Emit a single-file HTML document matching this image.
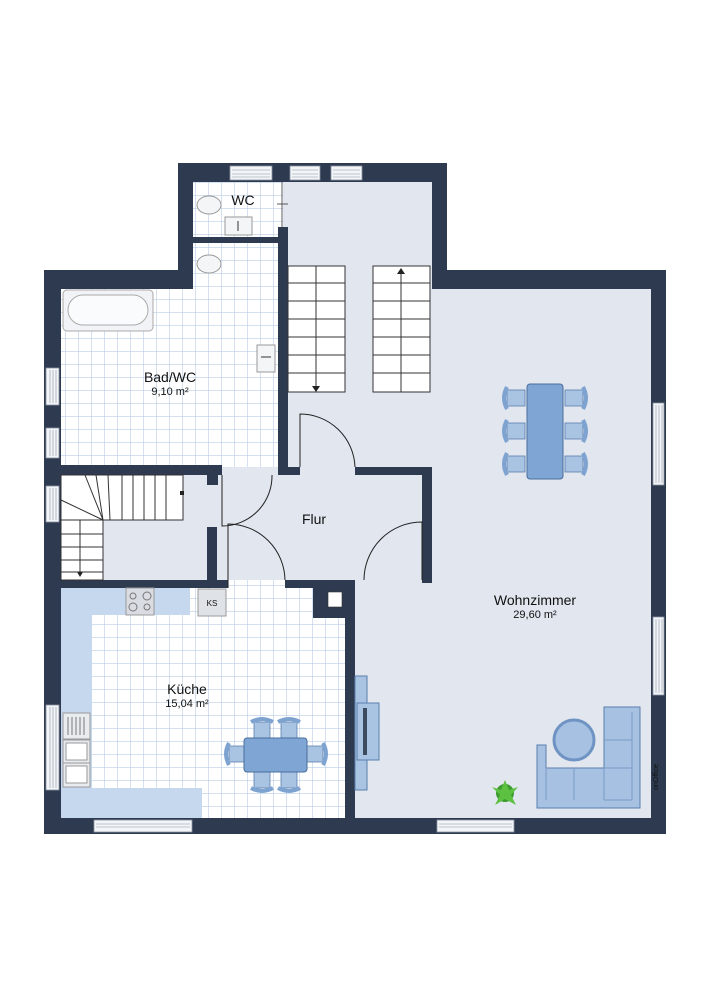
<!DOCTYPE html>
<html><head><meta charset="utf-8"><style>
html,body{margin:0;padding:0;background:#fff;width:706px;height:1000px;overflow:hidden}
svg{display:block}
text{font-family:"Liberation Sans",sans-serif;fill:#111}
</style></head><body>
<svg width="706" height="1000" viewBox="0 0 706 1000" xmlns="http://www.w3.org/2000/svg">
<defs>
<pattern id="tile" width="13" height="13" patternUnits="userSpaceOnUse">
<rect width="13" height="13" fill="#fff"/>
<path d="M0 0H13M0 0V13" stroke="#b9cde6" stroke-width="1.2"/>
</pattern>
<g id="chair">
<rect x="-11" y="-8" width="18" height="16" fill="#a9c3e2" stroke="#5a7fae" stroke-width="0.8"/>
<path d="M-11 -11 Q-17 0 -11 11" fill="none" stroke="#7ea3d0" stroke-width="4"/>
</g>
</defs>

<!-- floors -->
<rect x="178" y="163" width="269" height="320" fill="#e1e6ef"/>
<rect x="432" y="270" width="234" height="564" fill="#e1e6ef"/>
<rect x="44" y="270" width="400" height="564" fill="#e1e6ef"/>
<!-- tile areas -->
<rect x="193" y="182" width="90" height="55" fill="url(#tile)"/>
<rect x="193" y="243" width="85" height="50" fill="url(#tile)"/>
<rect x="61" y="289" width="217" height="178" fill="url(#tile)"/>
<rect x="228" y="580" width="117" height="10" fill="url(#tile)"/>
<rect x="61" y="588" width="284" height="230" fill="url(#tile)"/>
<!-- kitchen counters -->
<path d="M61 588H190V615H92V788H202V818H61Z" fill="#c5d8ee"/>

<!-- walls -->
<g fill="#2d3a4f">
<rect x="178" y="163" width="269" height="19"/>
<rect x="178" y="163" width="15" height="126"/>
<rect x="432" y="163" width="15" height="126"/>
<rect x="44" y="270" width="149" height="19"/>
<rect x="432" y="270" width="234" height="19"/>
<rect x="44" y="270" width="17" height="564"/>
<rect x="651" y="270" width="15" height="564"/>
<rect x="44" y="818" width="622" height="16"/>
<rect x="193" y="237" width="85" height="6"/>
<rect x="278" y="227" width="10" height="248"/>
<rect x="288" y="467" width="12" height="8"/>
<rect x="355" y="467" width="77" height="8"/>
<rect x="44" y="465" width="178" height="10"/>
<rect x="207" y="475" width="11" height="10"/>
<rect x="207" y="527" width="10" height="61"/>
<rect x="422" y="467" width="10" height="116"/>
<rect x="44" y="580" width="184" height="8"/>
<rect x="285" y="580" width="70" height="8"/>
<rect x="313" y="580" width="42" height="38"/>
<rect x="345" y="580" width="10" height="238"/>
</g>
<rect x="328" y="592" width="14" height="15" fill="#fff" stroke="#333" stroke-width="0.6"/>

<!-- windows -->
<g fill="#f3f5f8" stroke="#8a94a3" stroke-width="0.8">
<rect x="230" y="166" width="42" height="14"/><rect x="290" y="166" width="30" height="14"/><rect x="331" y="166" width="31" height="14"/>
<rect x="46" y="368" width="13" height="37"/><rect x="46" y="428" width="13" height="30"/><rect x="46" y="486" width="13" height="36"/><rect x="46" y="705" width="13" height="85"/>
<rect x="653" y="403" width="11" height="82"/><rect x="653" y="617" width="11" height="78"/>
<rect x="94" y="820" width="98" height="12"/><rect x="437" y="820" width="77" height="12"/>
</g>
<g stroke="#8a94a3" stroke-width="0.6">
<path d="M232 170H270M232 174H270M232 177H270M292 170H318M292 174H318M292 177H318M333 170H360M333 174H360M333 177H360"/>
<path d="M50 370V403M53 370V403M56 370V403M50 430V456M53 430V456M56 430V456M50 488V520M53 488V520M56 488V520M50 707V788M53 707V788M56 707V788"/>
<path d="M656 405V483M659 405V483M662 405V483M656 619V693M659 619V693M662 619V693"/>
<path d="M96 824H190M96 827H190M439 824H512M439 827H512"/>
</g>

<!-- WC fixtures -->
<line x1="282" y1="182" x2="282" y2="227" stroke="#333" stroke-width="0.8"/>
<line x1="277" y1="204" x2="288" y2="204" stroke="#333" stroke-width="0.8"/>
<ellipse cx="209" cy="205" rx="12" ry="9" fill="#f4f5f7" stroke="#999"/>
<ellipse cx="209" cy="264" rx="12" ry="9" fill="#f4f5f7" stroke="#999"/>
<rect x="225" y="217" width="27" height="18" fill="#f4f5f7" stroke="#999"/>
<line x1="238" y1="221" x2="238" y2="231" stroke="#333"/>
<rect x="257" y="345" width="18" height="27" fill="#f4f5f7" stroke="#999"/>
<line x1="261" y1="357" x2="271" y2="357" stroke="#333"/>
<rect x="63" y="290" width="90" height="41" rx="4" fill="#f1f3f6" stroke="#aaa"/>
<rect x="68" y="295" width="80" height="30" rx="15" fill="#fafbfc" stroke="#aaa"/>

<!-- stairs -->
<g fill="#fff" stroke="#333" stroke-width="1">
<rect x="288" y="266" width="57" height="126"/>
<rect x="373" y="266" width="57" height="126"/>
</g>
<g stroke="#333" stroke-width="1">
<path d="M288 283H345M288 301H345M288 319H345M288 337H345M288 355H345M288 373H345"/>
<path d="M373 283H430M373 301H430M373 319H430M373 337H430M373 355H430M373 373H430"/>
<line x1="316" y1="266" x2="316" y2="388"/><line x1="401" y1="270" x2="401" y2="392"/>
</g>
<path d="M312 386L316 392L320 386Z M397 274L401 268L405 274Z" fill="#222"/>
<!-- small winder stairs -->
<rect x="61" y="475" width="146" height="105" fill="#e1e6ef"/>
<g fill="none" stroke="#333" stroke-width="1">
<path d="M61 475H183V520H103V580H61Z" fill="#fff"/>
<path d="M85 475L103 520M96 475L103 520M108 475L110 520M122 475V520M133 475V520M144 475V520M155 475V520M166 475V520M61 500L103 520M61 520L103 520M61 534H103M61 547H103M61 560H103M61 572H103"/>
<line x1="80" y1="520" x2="80" y2="575"/>
</g>
<rect x="180" y="491" width="4" height="4" fill="#222"/>
<path d="M77 572L80 577L83 572Z" fill="#222"/>

<!-- doors -->
<g fill="none" stroke="#222" stroke-width="1">
<path d="M300 467V414A55 55 0 0 1 355 467"/>
<path d="M222 475V526A50 50 0 0 0 272 475"/>
<path d="M228 588V524A57 57 0 0 1 285 580"/>
<path d="M422 580V522A58 58 0 0 0 364 580"/>
</g>

<!-- kitchen appliances -->
<rect x="126" y="588" width="28" height="27" fill="#d9dde3" stroke="#999"/>
<g fill="none" stroke="#777"><circle cx="133" cy="596" r="3"/><circle cx="147" cy="596" r="4"/><circle cx="133" cy="607" r="4"/><circle cx="147" cy="607" r="3"/></g>
<rect x="198" y="589" width="28" height="27" fill="#dfe2e6" stroke="#999"/>
<text x="212" y="606" font-size="8" text-anchor="middle">KS</text>
<rect x="63" y="713" width="27" height="26" fill="#e9ecef" stroke="#999"/>
<path d="M68 717V735M72 717V735M76 717V735M80 717V735M84 717V735" stroke="#777"/>
<rect x="63" y="740" width="27" height="23" fill="#e9ecef" stroke="#999"/><rect x="66" y="743" width="21" height="17" fill="#fff" stroke="#999"/>
<rect x="63" y="763" width="27" height="24" fill="#e9ecef" stroke="#999"/><rect x="66" y="766" width="21" height="17" fill="#fff" stroke="#999"/>

<!-- kitchen table -->
<g>
<use href="#chair" transform="translate(240,754) rotate(0)"/>
<use href="#chair" transform="translate(312,754) rotate(180)"/>
<use href="#chair" transform="translate(262,733) rotate(90)"/>
<use href="#chair" transform="translate(289,733) rotate(90)"/>
<use href="#chair" transform="translate(262,777) rotate(-90)"/>
<use href="#chair" transform="translate(289,777) rotate(-90)"/>
<rect x="244" y="738" width="63" height="34" rx="3" fill="#7fa5d4" stroke="#4a6e9c"/>
</g>
<!-- dining table -->
<g>
<use href="#chair" transform="translate(518,398)"/><use href="#chair" transform="translate(518,431)"/><use href="#chair" transform="translate(518,464)"/>
<use href="#chair" transform="translate(572,398) rotate(180)"/><use href="#chair" transform="translate(572,431) rotate(180)"/><use href="#chair" transform="translate(572,464) rotate(180)"/>
<rect x="527" y="384" width="36" height="95" rx="3" fill="#7fa5d4" stroke="#4a6e9c"/>
</g>
<!-- TV unit -->
<rect x="355" y="676" width="12" height="114" fill="#a9c3e2" stroke="#5a7fae"/>
<rect x="357" y="703" width="22" height="57" fill="#a9c3e2" stroke="#5a7fae"/>
<rect x="363" y="708" width="4" height="47" fill="#3d4b5e"/>
<!-- sofa -->
<path d="M537 745H546V768H604V707H640V808H537Z" fill="#a6c1e2" stroke="#5a7fae"/>
<path d="M546 768V800M574 768V800M604 768V800M604 800H632M604 740H632M604 768H632M632 712V800" stroke="#7a9cc6" fill="none"/>
<circle cx="574" cy="740" r="20" fill="#a6c1e2" stroke="#6f93c2" stroke-width="3"/>
<!-- plant -->
<g fill="#3d9a2f"><circle cx="505" cy="793" r="9"/><path d="M505 780L509 790L518 787L511 795L516 805L505 799L495 805L500 795L492 787L501 790Z" fill="#5cc040"/></g>
<text x="658" y="790" font-size="7" transform="rotate(-90 658 790)" fill="#2d3a4f">onOffice</text>

<!-- labels -->
<text x="243" y="205" font-size="14" text-anchor="middle">WC</text>
<text x="170" y="382" font-size="14" text-anchor="middle">Bad/WC</text>
<text x="170" y="395" font-size="11" text-anchor="middle">9,10 m²</text>
<text x="314" y="524" font-size="14" text-anchor="middle">Flur</text>
<text x="535" y="605" font-size="14" text-anchor="middle">Wohnzimmer</text>
<text x="535" y="618" font-size="11" text-anchor="middle">29,60 m²</text>
<text x="187" y="694" font-size="14" text-anchor="middle">Küche</text>
<text x="187" y="707" font-size="11" text-anchor="middle">15,04 m²</text>
</svg>
</body></html>
